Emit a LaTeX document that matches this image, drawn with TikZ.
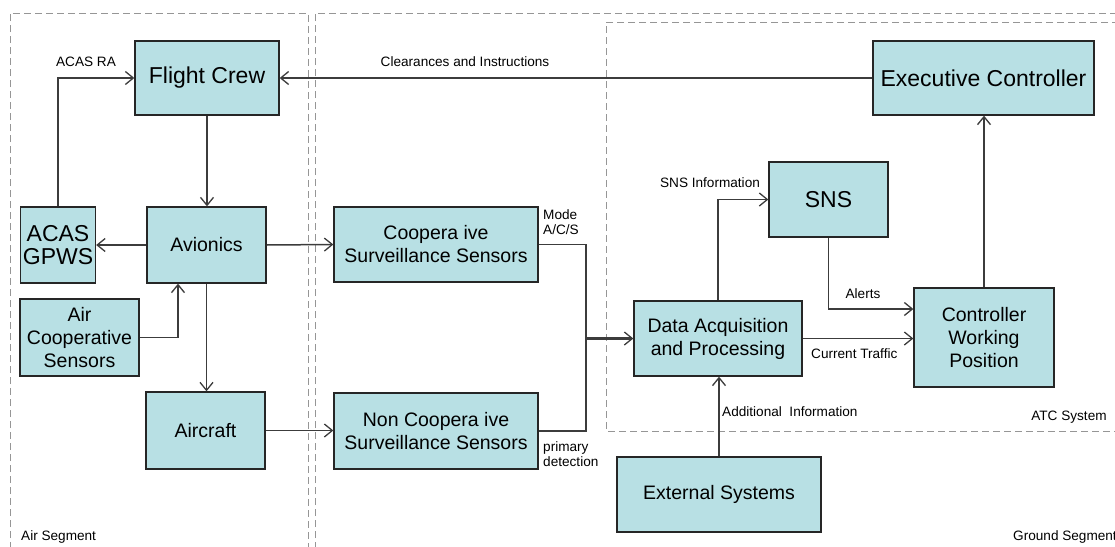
\documentclass[tikz,border=0pt]{standalone}
\usepackage{fontspec}
\setmainfont{Liberation Sans}
\usetikzlibrary{arrows.meta,calc}
\definecolor{boxfill}{RGB}{184,224,228}
\definecolor{linecol}{RGB}{60,60,60}
\definecolor{dashcol}{RGB}{150,150,150}
\tikzset{
  box/.style={draw=black!85, line width=1.3pt, fill=boxfill, align=center, inner sep=0pt},
  big/.style={font=\fontsize{23}{26}\selectfont},
  med/.style={font=\fontsize{19.5}{23}\selectfont},
  lbl/.style={font=\fontsize{13.6}{15}\selectfont, inner sep=0pt},
  wire/.style={draw=linecol, line width=1.5pt},
  conn/.style={wire, -{Straight Barb[length=8pt,width=13pt,line width=1.3pt]}},
  zone/.style={draw=dashcol, line width=1pt, dash pattern=on 7pt off 4pt}
}
\begin{document}
\begin{tikzpicture}[x=1pt,y=-1pt]
\useasboundingbox (0,0) rectangle (1115,546);
\begin{scope}
\clip (0,0) rectangle (1115,546);
\draw[zone] (10,560) -- (10,13) -- (308,13) -- (308,560);
\draw[zone] (315,560) -- (315,13) -- (1130,13);
\draw[zone] (1130,22) -- (606,22) -- (606,431) -- (1130,431);
\end{scope}

% nodes
\node[box,big,minimum width=144pt,minimum height=74pt] (fc) at (207,78) {Flight Crew};
\node[box,big,minimum width=221pt,minimum height=74pt] (ec) at (983.5,78) {Executive Controller};
\node[box,big,minimum width=75pt,minimum height=76pt] (acas) at (58,245) {ACAS\\[-3pt]GPWS};
\node[box,med,minimum width=119pt,minimum height=76pt] (av) at (206.5,245) {Avionics};
\node[box,med,minimum width=119pt,minimum height=77pt] (acs) at (79.5,337.5) {Air\\Cooperative\\Sensors};
\node[box,med,minimum width=119pt,minimum height=77pt] (ac) at (205.5,430.5) {Aircraft};
\node[box,med,minimum width=204pt,minimum height=75pt] (coop) at (436,244.5) {Coopera ive\\Surveillance Sensors};
\node[box,med,minimum width=204pt,minimum height=76pt] (nc) at (436,431) {Non Coopera ive\\Surveillance Sensors};
\node[box,big,minimum width=119pt,minimum height=75pt] (sns) at (828.5,199.5) {SNS};
\node[box,med,minimum width=168pt,minimum height=75pt] (daq) at (718,338.5) {Data Acquisition\\and Processing};
\node[box,med,minimum width=140pt,minimum height=99pt] (cwp) at (984,337.5) {Controller\\Working\\Position};
\node[box,med,minimum width=204pt,minimum height=75pt] (ext) at (719,494.5) {External Systems};

% connectors
\draw[conn] (ec.west) -- (fc.east);
\draw[conn] (acas.north) |- (fc.west);
\draw[conn] (fc.south) -- (fc.south |- av.north);
\draw[conn] (av.west) -- (acas.east);
\draw[conn] (av.east) -- (coop.west);
\draw[conn] (acs.east) -| ([xshift=-28.5pt]av.south);
\draw[conn] (av.south) -- (av.south |- ac.north);
\draw[conn] (ac.east) -- (ac.east -| nc.west);
\coordinate (j) at (586,338.5);
\draw[wire] (coop.east) -| (j);
\draw[wire] (nc.east) -| (j);
\draw[conn, line width=2.2pt] (j) -- (daq.west);
\draw[conn] (daq.north) |- (sns.west);
\draw[conn] (sns.south) |- ([yshift=28.5pt]cwp.west);
\draw[conn] (daq.east) -- (daq.east -| cwp.west);
\draw[conn] (ext.north) -- (ext.north |- daq.south);
\draw[conn] (cwp.north) -- (cwp.north |- ec.south);

% labels
\node[lbl] (l1) at (86,62) {ACAS RA};
\node[lbl] (l2) at (465,62) {Clearances and Instructions};
\node[lbl, align=left, anchor=west] (l3) at (543,222) {Mode\\A/C/S};
\node[lbl, align=left, anchor=west] (l4) at (543,454) {primary\\detection};
\node[lbl] (l5) at (710,183) {SNS Information};
\node[lbl] (l6) at (863,294) {Alerts};
\node[lbl, anchor=west] (l7) at (811,354) {Current Traffic};
\node[lbl, anchor=west] (l8) at (722,412) {Additional\ \ Information};
\node[lbl] (l9) at (1069,417) {ATC System};
\node[lbl, anchor=west] (l10) at (21,537) {Air Segment};
\node[lbl, anchor=west] (l11) at (1013,537) {Ground Segment};
\end{tikzpicture}
\end{document}
